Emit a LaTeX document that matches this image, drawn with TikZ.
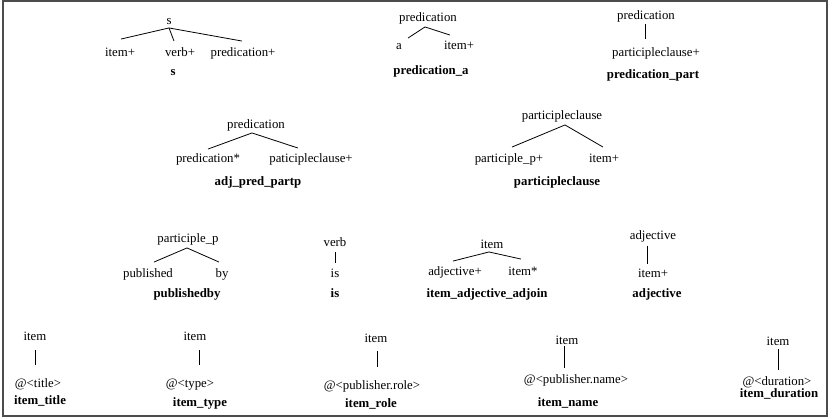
\documentclass[tikz,border=0pt]{standalone}
\usepackage{fontspec}
\setmainfont{Liberation Serif}
\tikzset{
  tok/.style={inner sep=0pt, text height=10.5pt, text depth=1pt, font=\fontsize{12.8}{15}\selectfont},
  rulename/.style={tok, font=\fontsize{12.8}{15}\selectfont\bfseries},
  branch/.style={thick, black}
}
\begin{document}
\begin{tikzpicture}[x=1pt,y=-1pt]
  \useasboundingbox (0,0) rectangle (838,418);
  \draw[line width=1.5pt, black!70] (3,1) rectangle (827,416);
  % s
  \node[tok] (s) at (169,20) {s};
  \node[tok] (s-item) at (120,52) {item+};
  \node[tok] (s-verb) at (180,52) {verb+};
  \node[tok] (s-pred) at (243,52) {predication+};
  \node[rulename] (s-name) at (173,71) {s};
  \draw[branch] ([yshift=-2pt]s.south) -- ([xshift=1pt,yshift=7pt]s-item.north);
  \draw[branch] ([yshift=-2pt]s.south) -- ([xshift=-6pt,yshift=5pt]s-verb.north);
  \draw[branch] ([yshift=-2pt]s.south) -- ([xshift=-1pt,yshift=5pt]s-pred.north);
  % predication_a
  \node[tok] (pa) at (428,17) {predication};
  \node[tok] (pa-a) at (399,45) {a};
  \node[tok] (pa-item) at (459,45) {item+};
  \node[rulename] (pa-name) at (431,70) {predication\_a};
  \draw[branch] ([xshift=-3pt,yshift=-4pt]pa.south) -- ([xshift=9pt,yshift=1pt]pa-a.north);
  \draw[branch] ([xshift=-3pt,yshift=-4pt]pa.south) -- ([xshift=-9pt,yshift=4pt]pa-item.north);
  % predication_part
  \node[tok] (pp) at (646,15) {predication};
  \node[tok] (pp-clause) at (656,52) {participleclause+};
  \node[rulename] (pp-name) at (653,74) {predication\_part};
  \draw[branch] ([xshift=-1pt,yshift=-3pt]pp.south) -- ([xshift=-11pt,yshift=7pt]pp-clause.north);
  % adj_pred_partp
  \node[tok] (ap) at (256,124) {predication};
  \node[tok] (ap-pred) at (208,158) {predication*};
  \node[tok] (ap-clause) at (311,158) {paticipleclause+};
  \node[rulename] (ap-name) at (258,181) {adj\_pred\_partp};
  \draw[branch] ([xshift=-4pt,yshift=-3pt]ap.south) -- ([yshift=3pt]ap-pred.north);
  \draw[branch] ([xshift=-4pt,yshift=-3pt]ap.south) -- ([xshift=-13pt,yshift=4pt]ap-clause.north);
  % participleclause
  \node[tok] (pc) at (562,115) {participleclause};
  \node[tok] (pc-part) at (509,158) {participle\_p+};
  \node[tok] (pc-item) at (604,158) {item+};
  \node[rulename] (pc-name) at (557,181) {participleclause};
  \draw[branch] ([xshift=3pt,yshift=-4pt]pc.south) -- ([xshift=3pt,yshift=5pt]pc-part.north);
  \draw[branch] ([xshift=3pt,yshift=-4pt]pc.south) -- ([xshift=-1pt,yshift=5pt]pc-item.north);
  % publishedby
  \node[tok] (pb) at (188,238) {participle\_p};
  \node[tok] (pb-pub) at (148,273) {published};
  \node[tok] (pb-by) at (222,273) {by};
  \node[rulename] (pb-name) at (187,293) {publishedby};
  \draw[branch] ([xshift=-1pt,yshift=-4pt]pb.south) -- ([xshift=6pt,yshift=5pt]pb-pub.north);
  \draw[branch] ([xshift=-1pt,yshift=-4pt]pb.south) -- ([xshift=-3pt,yshift=5pt]pb-by.north);
  % is
  \node[tok] (vb) at (335,242) {verb};
  \node[tok] (vb-is) at (335,273) {is};
  \node[rulename] (vb-name) at (335,293) {is};
  \draw[branch] ([yshift=-4pt]vb.south) -- ([yshift=4pt]vb-is.north);
  % item_adjective_adjoin
  \node[tok] (ia) at (492,244) {item};
  \node[tok] (ia-adj) at (455,271) {adjective+};
  \node[tok] (ia-item) at (523,271) {item*};
  \node[rulename] (ia-name) at (487,293) {item\_adjective\_adjoin};
  \draw[branch] ([xshift=-3pt,yshift=-2pt]ia.south) -- ([xshift=-2pt,yshift=4pt]ia-adj.north);
  \draw[branch] ([xshift=-3pt,yshift=-2pt]ia.south) -- ([xshift=-2pt,yshift=6pt]ia-item.north);
  % adjective
  \node[tok] (ad) at (653,235) {adjective};
  \node[tok] (ad-item) at (653,273) {item+};
  \node[rulename] (ad-name) at (657,293) {adjective};
  \draw[branch] ([xshift=-6pt,yshift=-5pt]ad.south) -- ([xshift=-6pt,yshift=3pt]ad-item.north);
  % item_title
  \node[tok] (it1) at (35,336) {item};
  \node[tok] (at1) at (38,383) {@<title>};
  \node[rulename] (n1) at (40,400) {item\_title};
  \draw[branch] ([yshift=-8pt]it1.south) -- ([xshift=-3pt,yshift=12pt]at1.north);
  % item_type
  \node[tok] (it2) at (195,336) {item};
  \node[tok] (at2) at (190,383) {@<type>};
  \node[rulename] (n2) at (200,402) {item\_type};
  \draw[branch] ([xshift=4pt,yshift=-8pt]it2.south) -- ([xshift=9pt,yshift=12pt]at2.north);
  % item_role
  \node[tok] (it3) at (376,338) {item};
  \node[tok] (at3) at (372,385) {@<publisher.role>};
  \node[rulename] (n3) at (371,403) {item\_role};
  \draw[branch] ([xshift=1pt,yshift=-7pt]it3.south) -- ([xshift=5pt,yshift=12pt]at3.north);
  % item_name
  \node[tok] (it4) at (567,340) {item};
  \node[tok] (at4) at (576,379) {@<publisher.name>};
  \node[rulename] (n4) at (568,402) {item\_name};
  \draw[branch] ([xshift=-3pt,yshift=-0.25pt]it4.south) -- ([xshift=-12pt,yshift=5pt]at4.north);
  % item_duration
  \node[tok] (it5) at (778,341) {item};
  \node[tok] (at5) at (777,381) {@<duration>};
  \node[rulename] (n5) at (779,393) {item\_duration};
  \draw[branch] ([yshift=-2.25pt]it5.south) -- ([xshift=1pt,yshift=5pt]at5.north);
\end{tikzpicture}
\end{document}
